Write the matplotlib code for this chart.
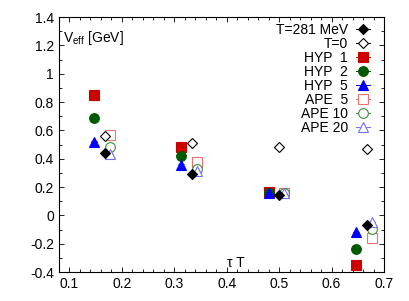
import matplotlib
matplotlib.use("Agg")
import matplotlib.pyplot as plt
from matplotlib.lines import Line2D
from matplotlib.ticker import MultipleLocator

plt.rcParams['font.family'] = ['Liberation Sans', 'DejaVu Sans']
plt.rcParams['mathtext.fontset'] = 'custom'
plt.rcParams['mathtext.rm'] = 'Liberation Sans'
plt.rcParams['mathtext.it'] = 'Liberation Sans:italic'

# tau*T positions (HYP shifted left, APE shifted right)
tau_T = [0.167, 0.333, 0.5, 0.667]
tau_hyp = [0.147, 0.313, 0.48, 0.647]
tau_ape = [0.177, 0.343, 0.51, 0.677]

# V_eff [GeV]
v_t281 = [0.44, 0.29, 0.145, -0.07]
v_t0 = [0.56, 0.51, 0.485, 0.47]
v_hyp1 = [0.85, 0.48, 0.165, -0.35]
v_hyp2 = [0.685, 0.42, 0.16, -0.24]
v_hyp5 = [0.52, 0.355, 0.16, -0.12]
v_ape5 = [0.57, 0.375, 0.16, -0.16]
v_ape10 = [0.48, 0.33, 0.155, -0.095]
v_ape20 = [0.43, 0.31, 0.155, -0.05]

labels = ['T=281 MeV', 'T=0', 'HYP  1', 'HYP  2', 'HYP  5', 'APE  5', 'APE 10', 'APE 20']

red = '#cc0000'
green = '#005a00'
blue = '#0000ff'
lred = '#f07070'
lgreen = '#3c8c3c'
lblue = '#7070ff'

# (x, y, marker, color, filled, size)
series = [
    (tau_hyp, v_hyp1, 's', red, True, 6.5),
    (tau_hyp, v_hyp2, 'o', green, True, 7),
    (tau_hyp, v_hyp5, '^', blue, True, 7),
    (tau_ape, v_ape5, 's', lred, False, 6.5),
    (tau_ape, v_ape10, 'o', lgreen, False, 7),
    (tau_ape, v_ape20, '^', lblue, False, 7),
    (tau_T, v_t0, 'D', 'black', False, 5.5),
    (tau_T, v_t281, 'D', 'black', True, 5.5),
]

fig = plt.figure(figsize=(4.09, 3.01), dpi=100)
ax = fig.add_axes([0.144, 0.0963, 0.795, 0.8472])

for x, y, m, c, filled, ms in series:
    ax.errorbar(x, y, yerr=0.004, fmt=m, ms=ms, color=c,
                mfc=c if filled else 'white', mec=c, mew=0.8,
                elinewidth=0.7, capsize=2, capthick=0.7, ecolor=c)

# legend in the order of the reference
order = [7, 6, 0, 1, 2, 3, 4, 5]
handles = []
for i in order:
    x, y, m, c, filled, ms = series[i]
    handles.append(Line2D([], [], marker=m, color=c, lw=0.7, ms=ms,
                          mfc=c if filled else 'white', mec=c, mew=0.8))
ax.legend(handles, labels, loc='upper right', bbox_to_anchor=(0.957, 0.978),
          frameon=False, markerfirst=False,
          fontsize=10, handlelength=1.0, handletextpad=0.6, labelspacing=0.0,
          borderaxespad=0.0, borderpad=0.0)

ax.set_xlim(0.08, 0.7)
ax.set_ylim(-0.4, 1.4)
ax.xaxis.set_major_locator(MultipleLocator(0.1))
ax.xaxis.set_minor_locator(MultipleLocator(0.02))
ax.yaxis.set_major_locator(MultipleLocator(0.2))
ax.yaxis.set_minor_locator(MultipleLocator(0.1))
ax.set_xticks([0.1, 0.2, 0.3, 0.4, 0.5, 0.6, 0.7])
ax.set_xticklabels(['0.1', '0.2', '0.3', '0.4', '0.5', '0.6', '0.7'])
ax.set_yticks([-0.4, -0.2, 0, 0.2, 0.4, 0.6, 0.8, 1, 1.2, 1.4])
ax.set_yticklabels(['-0.4', '-0.2', '0', '0.2', '0.4', '0.6', '0.8', '1', '1.2', '1.4'])
ax.tick_params(which='both', direction='in', top=True, right=True, labelsize=10)
ax.tick_params(which='major', length=3.5, width=0.6)
ax.tick_params(which='minor', length=2, width=0.6)
for s in ax.spines.values():
    s.set_linewidth(0.8)

ax.text(0.012, 0.918, r'V$_{\rm eff}$ [GeV]', transform=ax.transAxes,
        ha='left', va='center', fontsize=10)
ax.text(0.545, 0.008, 'τ T', transform=ax.transAxes, ha='center', va='bottom',
        fontsize=10)

fig.savefig('out.png', dpi=100)
